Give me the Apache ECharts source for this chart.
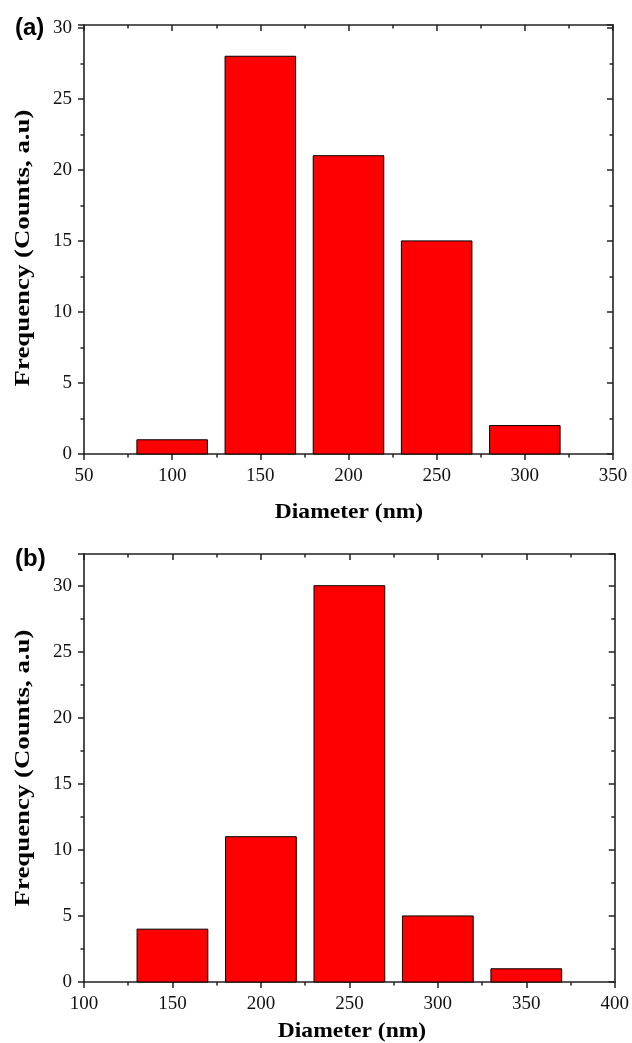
<!DOCTYPE html>
<html>
<head>
<meta charset="utf-8">
<script src="https://cdn.jsdelivr.net/npm/echarts@6/dist/echarts.min.js"></script>
<style>html,body{margin:0;padding:0;background:#fff;}#c{width:632px;height:1043px;}</style>
</head>
<body>
<div id="c"></div>
<script>
// ---- data ----
const diameterA = [100, 150, 200, 250, 300];
const countsA = [1, 28, 21, 15, 2];
const diameterB = [150, 200, 250, 300, 350];
const countsB = [4, 11, 30, 5, 1];
const binWidth = 40; // bar width in nm
const panelLabels = ['(a)', '(b)'];
const xTitle = 'Diameter (nm)';
const yTitle = 'Frequency (Counts, a.u)';

const chart = echarts.init(document.getElementById('c'), null, {renderer: 'canvas'});
const serif = 'Liberation Serif';
const axisColor = '#222';

function bottomX(gi, min, max) {
  return {
    type: 'value', gridIndex: gi, min: min, max: max, interval: 50, position: 'bottom',
    axisLine: {show: true, onZero: false, lineStyle: {color: axisColor, width: 1.6}},
    axisTick: {show: true, inside: false, length: 6, lineStyle: {color: axisColor, width: 1.5}},
    minorTick: {show: true, splitNumber: 2, length: 3.5, lineStyle: {color: axisColor, width: 1.5}},
    axisLabel: {fontFamily: serif, fontSize: 19, color: '#111', margin: 13},
    splitLine: {show: false}
  };
}
function topX(gi, min, max) {
  return {
    type: 'value', gridIndex: gi, min: min, max: max, interval: 50, position: 'top',
    axisLine: {show: true, onZero: false, lineStyle: {color: axisColor, width: 1.6}},
    axisTick: {show: true, inside: true, length: 6, lineStyle: {color: axisColor, width: 1.5}},
    minorTick: {show: true, splitNumber: 2, length: 3.5, lineStyle: {color: axisColor, width: 1.5}},
    axisLabel: {show: false}, splitLine: {show: false}
  };
}
function leftY(gi, max) {
  return {
    type: 'value', gridIndex: gi, min: 0, max: max, interval: 5, position: 'left',
    axisLine: {show: true, onZero: false, lineStyle: {color: axisColor, width: 1.6}},
    axisTick: {show: true, inside: false, length: 6, lineStyle: {color: axisColor, width: 1.5}},
    minorTick: {show: true, splitNumber: 2, length: 3.5, lineStyle: {color: axisColor, width: 1.5}},
    axisLabel: {fontFamily: serif, fontSize: 19, color: '#111', margin: 12, showMaxLabel: false},
    splitLine: {show: false}
  };
}
function rightY(gi, max) {
  return {
    type: 'value', gridIndex: gi, min: 0, max: max, interval: 5, position: 'right',
    axisLine: {show: true, onZero: false, lineStyle: {color: axisColor, width: 1.6}},
    axisTick: {show: true, inside: true, length: 6, lineStyle: {color: axisColor, width: 1.5}},
    minorTick: {show: true, splitNumber: 2, length: 3.5, lineStyle: {color: axisColor, width: 1.5}},
    axisLabel: {show: false}, splitLine: {show: false}
  };
}
function renderBar(params, api) {
  const x = api.value(0), y = api.value(1);
  const p0 = api.coord([x - binWidth / 2, y]);
  const p1 = api.coord([x + binWidth / 2, 0]);
  return {
    type: 'rect',
    shape: {x: p0[0], y: p0[1], width: p1[0] - p0[0], height: p1[1] - p0[1]},
    style: {fill: '#ff0000', stroke: '#000', lineWidth: 1}
  };
}
function xName(cx, cy) {
  return {type: 'text', x: cx, y: cy, scaleX: 1.07, silent: true,
    style: {text: xTitle, font: 'bold 22px "Liberation Serif"', fill: '#000', align: 'center', verticalAlign: 'middle'}};
}
function yName(cx, cy) {
  return {type: 'text', x: cx, y: cy, rotation: Math.PI / 2, scaleX: 1.22, silent: true,
    style: {text: yTitle, font: 'bold 22px "Liberation Serif"', fill: '#000', align: 'center', verticalAlign: 'middle'}};
}

chart.setOption({
  animation: false,
  title: [
    {text: panelLabels[0], left: 10, top: 11, textStyle: {fontFamily: 'Liberation Sans', fontWeight: 'bold', fontSize: 24, color: '#000'}},
    {text: panelLabels[1], left: 10, top: 542, textStyle: {fontFamily: 'Liberation Sans', fontWeight: 'bold', fontSize: 24, color: '#000'}}
  ],
  grid: [
    {left: 84, top: 25, right: 19, height: 429},
    {left: 84, top: 554, right: 13, height: 428}
  ],
  xAxis: [bottomX(0, 50, 350), topX(0, 50, 350), bottomX(1, 100, 400), topX(1, 100, 400)],
  yAxis: [leftY(0, 30.2), rightY(0, 30.2), leftY(1, 32.4), rightY(1, 32.4)],
  graphic: [xName(349, 512), yName(23, 248), xName(352, 1031), yName(23, 768)],
  series: [
    {type: 'custom', xAxisIndex: 0, yAxisIndex: 0, renderItem: renderBar,
     data: diameterA.map((d, i) => [d, countsA[i]])},
    {type: 'custom', xAxisIndex: 2, yAxisIndex: 2, renderItem: renderBar,
     data: diameterB.map((d, i) => [d, countsB[i]])}
  ]
});
</script>
</body>
</html>
